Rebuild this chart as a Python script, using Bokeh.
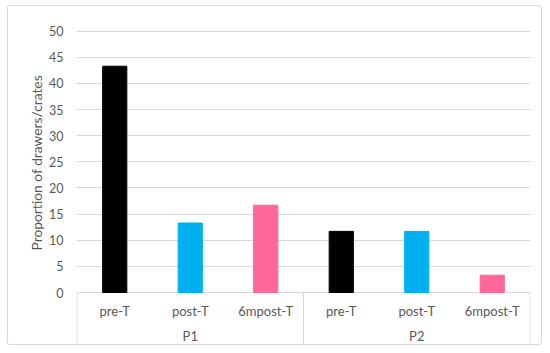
import numpy as np
from bokeh.plotting import figure
from bokeh.models import Range1d, FixedTicker, ColumnDataSource, Title
from bokeh.core.properties import value
from bokeh.embed import file_html
from bokeh.resources import INLINE

groups = ["P1", "P2"]
conditions = ["pre-T", "post-T", "6mpost-T"]
p1_values = [43.3, 13.3, 16.7]
p2_values = [11.7, 11.7, 3.3]
colors = ["#000000", "#00B0F0", "#FF6699"]
y_ticks = [0, 5, 10, 15, 20, 25, 30, 35, 40, 45, 50]
y_label = "Proportion of drawers/crates"

FONT = "Lato"
TXT = "#595959"
GRID = "#d9d9d9"

n_cond = len(conditions)
values = p1_values + p2_values
xs = np.arange(len(values)) + 0.5
bar_colors = colors * len(groups)
cond_labels = conditions * len(groups)

bars = ColumnDataSource(dict(x=xs, top=values, color=bar_colors))
cats = ColumnDataSource(dict(x=xs, y=[-3.45] * len(xs), text=cond_labels))
grp_x = [n_cond * i + n_cond / 2 for i in range(len(groups))]
grps = ColumnDataSource(dict(x=grp_x, y=[-8.4] * len(groups), text=groups))
sep_x = [n_cond * i for i in range(len(groups) + 1)]
seps = ColumnDataSource(dict(x0=sep_x, x1=sep_x, y0=[0] * len(sep_x), y1=[-9.9] * len(sep_x)))

pad = 0.0066
p = figure(width=535, height=340, output_backend="svg", toolbar_location=None,
           x_range=Range1d(-pad, len(values) + pad), y_range=Range1d(-10.14, 52.05),
           min_border_left=68, min_border_right=13, min_border_top=14, min_border_bottom=1)
p.styles = {"border": "1px solid #d9d9d9", "border-radius": "3px",
            "margin-left": "7px", "margin-top": "5px"}
p.outline_line_color = None
p.xaxis.visible = False
p.xgrid.grid_line_color = None

p.ygrid.ticker = FixedTicker(ticks=y_ticks)
p.ygrid.grid_line_color = GRID
p.ygrid.grid_line_width = 1

ax = p.yaxis[0]
ax.ticker = FixedTicker(ticks=y_ticks)
ax.axis_line_color = None
ax.major_tick_line_color = None
ax.minor_tick_line_color = None
ax.major_tick_out = 0
ax.major_tick_in = 0
ax.minor_tick_out = 0
ax.minor_tick_in = 0
ax.major_label_standoff = 13
ax.major_label_text_font = FONT
ax.major_label_text_font_size = "12.5px"
ax.major_label_text_color = TXT

p.vbar(x="x", top="top", bottom=0, width=0.32, color="color", source=bars)
p.segment(x0="x0", y0="y0", x1="x1", y1="y1", line_color=GRID, line_width=1, source=seps)
p.text(x="x", y="y", text="text", source=cats, text_font=value(FONT), text_font_size="13px",
       text_color=TXT, text_align="center", text_baseline="middle")
p.text(x="x", y="y", text="text", source=grps, text_font=value(FONT), text_font_size="13px",
       text_color=TXT, text_align="center", text_baseline="middle")

ttl = Title(text=y_label, align="left", offset=95, text_font=FONT, text_font_size="13.8px",
            text_color=TXT, text_font_style="normal", standoff=4)
p.add_layout(ttl, "left")

open("out.html", "w").write(file_html(p, INLINE))
